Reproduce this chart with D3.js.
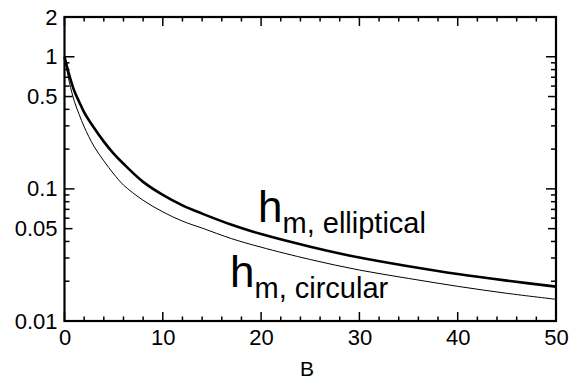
<!DOCTYPE html>
<html>
<head>
<meta charset="utf-8">
<script src="https://cdn.jsdelivr.net/npm/d3@7"></script>
<style>
  html, body { margin: 0; padding: 0; background: #fff; }
  svg { display: block; font-family: 'Liberation Sans', Arial, Helvetica, sans-serif; }
</style>
</head>
<body>
<svg id="chart" width="569" height="381"></svg>
<script>
// B values and the two curves
const bValues = [0, 0.5, 1, 1.5, 2, 3, 4, 5, 6, 8, 10, 12, 14, 17, 20, 25, 30, 35, 40, 45, 50]
const hElliptical = [1.0, 0.72, 0.55, 0.455, 0.38, 0.29, 0.228, 0.185, 0.155, 0.113, 0.09, 0.075, 0.065, 0.0535, 0.0455, 0.0365, 0.0302, 0.026, 0.0227, 0.0202, 0.0182]
const hCircular = [1.0, 0.64, 0.46, 0.365, 0.295, 0.21, 0.163, 0.13, 0.107, 0.082, 0.067, 0.057, 0.0505, 0.042, 0.0362, 0.0292, 0.0243, 0.021, 0.0183, 0.0162, 0.0146]

// tick values
const xMajorTicks = [0, 10, 20, 30, 40, 50]
const xMinorTicks = [2, 4, 6, 8, 12, 14, 16, 18, 22, 24, 26, 28, 32, 34, 36, 38, 42, 44, 46, 48]
const yLabelTicks = [0.01, 0.05, 0.1, 0.5, 1, 2]
const yMajorTicks = [0.01, 0.1, 1]
const yMidTicks = [0.05, 0.5]
const yMinorTicks = [0.02, 0.03, 0.04, 0.06, 0.07, 0.08, 0.09, 0.2, 0.3, 0.4, 0.6, 0.7, 0.8, 0.9]

const margin = { top: 17, right: 13, bottom: 60, left: 64.5 }
const W = 569, H = 381
const width = W - margin.left - margin.right
const height = H - margin.top - margin.bottom

const svg = d3.select('#chart')
const g = svg.append('g').attr('transform', `translate(${margin.left},${margin.top})`)

const x = d3.scaleLinear().domain([0, 50]).range([0, width])
const y = d3.scaleLog().domain([0.01, 2]).range([height, 0])

// curves
const line = d3.line().x(d => x(d[0])).y(d => y(d[1])).curve(d3.curveCatmullRom)

g.append('path')
  .datum(bValues.map((b, i) => [b, hCircular[i]]))
  .attr('fill', 'none')
  .attr('stroke', '#000')
  .attr('stroke-width', 1)
  .attr('d', line)

g.append('path')
  .datum(bValues.map((b, i) => [b, hElliptical[i]]))
  .attr('fill', 'none')
  .attr('stroke', '#000')
  .attr('stroke-width', 2.6)
  .attr('d', line)

// ticks, all pointing inward, mirrored on top and right
const ticks = g.append('g').attr('stroke', '#000').attr('stroke-width', 1.5)

function xTicks(values, len) {
  values.forEach(v => {
    ticks.append('line').attr('x1', x(v)).attr('x2', x(v)).attr('y1', height).attr('y2', height - len)
    ticks.append('line').attr('x1', x(v)).attr('x2', x(v)).attr('y1', 0).attr('y2', len)
  })
}
function yTicks(values, len) {
  values.forEach(v => {
    ticks.append('line').attr('x1', 0).attr('x2', len).attr('y1', y(v)).attr('y2', y(v))
    ticks.append('line').attr('x1', width).attr('x2', width - len).attr('y1', y(v)).attr('y2', y(v))
  })
}
xTicks(xMajorTicks, 9)
xTicks(xMinorTicks, 4.5)
yTicks(yMajorTicks, 10)
yTicks(yMidTicks, 8)
yTicks(yMinorTicks, 5)

// frame
g.append('rect')
  .attr('width', width)
  .attr('height', height)
  .attr('fill', 'none')
  .attr('stroke', '#000')
  .attr('stroke-width', 2.2)

// tick labels
const xAxis = g.append('g')
  .attr('transform', `translate(0,${height})`)
  .call(d3.axisBottom(x).tickValues(xMajorTicks).tickSize(0).tickPadding(8).tickFormat(d3.format('d')))
xAxis.select('.domain').remove()
xAxis.selectAll('text').attr('font-size', 22).attr('fill', '#000').style('font-family', 'inherit')

const yAxis = g.append('g')
  .call(d3.axisLeft(y).tickValues(yLabelTicks).tickSize(0).tickPadding(7).tickFormat(d => String(d)))
yAxis.select('.domain').remove()
yAxis.selectAll('text').attr('font-size', 22).attr('fill', '#000').style('font-family', 'inherit')

// axis title
svg.append('text')
  .attr('x', 307)
  .attr('y', 376)
  .attr('text-anchor', 'middle')
  .attr('font-size', 21)
  .text('B')

// curve labels
function curveLabel(xPos, yPos, sub) {
  const t = svg.append('text').attr('x', xPos).attr('y', yPos)
  t.append('tspan').attr('font-size', 44).text('h')
  t.append('tspan').attr('font-size', 29).attr('dy', 11).attr('dx', 0).text(sub)
}
curveLabel(258, 222, 'm, elliptical')
curveLabel(230, 287, 'm, circular')
</script>
</body>
</html>
